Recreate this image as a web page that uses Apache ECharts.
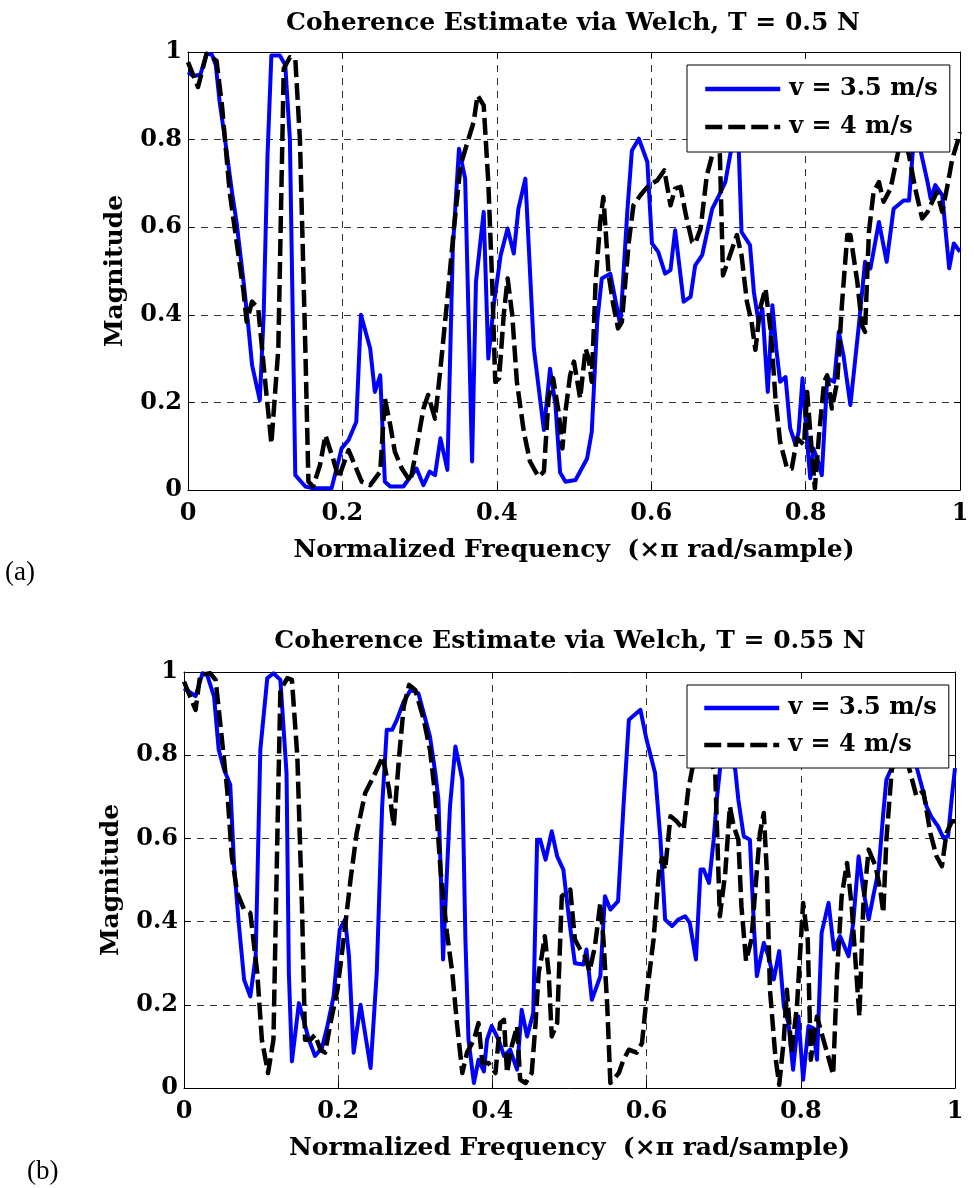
<!DOCTYPE html>
<html>
<head>
<meta charset="utf-8">
<script src="https://cdn.jsdelivr.net/npm/echarts@6/dist/echarts.min.js"></script>
<style>
html,body{margin:0;padding:0;background:#fff;}
#chart{width:974px;height:1188px;}
</style>
</head>
<body>
<div id="chart"></div>
<script>
// ---------- tick labels ----------
const xTicks = [0, 0.2, 0.4, 0.6, 0.8, 1];
const yTicks = [0, 0.2, 0.4, 0.6, 0.8, 1];
const seriesNames = ['v = 3.5 m/s', 'v = 4 m/s'];
const titles = ['Coherence Estimate via Welch, T = 0.5 N', 'Coherence Estimate via Welch, T = 0.55 N'];
const panelLabels = ['(a)', '(b)'];

// ---------- panel (a) : v = 3.5 m/s ----------
const freqA1 = [0,.007,.016,.024,.031,.036,.041,.048,.057,.063,.072,.078,.083,.093,.098,.103,.108,.119,.126,.132,.139,.152,.162,.186,.199,.208,.218,.224,.236,.242,.249,.255,.262,.279,.288,.296,.305,.313,.32,.327,.336,.343,.351,.359,.368,.373,.383,.389,.396,.405,.414,.422,.428,.437,.448,.461,.469,.476,.482,.489,.502,.517,.523,.53,.536,.547,.56,.569,.575,.584,.595,.601,.609,.618,.625,.631,.642,.651,.657,.666,.679,.688,.696,.703,.709,.713,.717,.728,.733,.739,.744,.751,.757,.762,.767,.774,.78,.787,.791,.796,.802,.806,.81,.815,.821,.828,.837,.843,.849,.858,.869,.877,.884,.895,.905,.914,.927,.934,.94,.947,.958,.962,.968,.977,.986,.992,1.0];
const magA1  = [.954,.945,.948,.996,.994,.97,.886,.80,.68,.61,.475,.376,.285,.205,.40,.764,.992,.992,.97,.80,.034,.008,.004,.004,.095,.114,.156,.40,.323,.224,.262,.019,.008,.008,.03,.049,.011,.042,.034,.118,.046,.551,.779,.711,.065,.475,.635,.30,.422,.536,.597,.54,.642,.711,.323,.137,.277,.194,.04,.019,.023,.072,.133,.384,.483,.494,.376,.635,.775,.802,.749,.563,.544,.494,.502,.593,.43,.441,.513,.536,.642,.673,.703,.772,.84,.80,.589,.559,.452,.384,.414,.224,.422,.323,.247,.258,.141,.103,.133,.255,.11,.027,.095,.072,.034,.255,.247,.361,.308,.194,.376,.521,.506,.612,.521,.642,.661,.661,.80,.79,.703,.665,.696,.673,.506,.563,.544];

// ---------- panel (a) : v = 4 m/s ----------
const freqA2 = [0,.013,.024,.037,.044,.054,.072,.076,.083,.091,.10,.108,.117,.124,.132,.139,.145,.152,.156,.162,.171,.178,.189,.195,.208,.225,.236,.249,.255,.262,.268,.277,.288,.296,.305,.311,.32,.327,.336,.344,.353,.362,.37,.375,.383,.389,.394,.398,.403,.409,.414,.42,.426,.435,.443,.454,.461,.467,.473,.48,.485,.489,.495,.50,.508,.515,.519,.523,.528,.534,.538,.545,.551,.557,.562,.571,.577,.586,.597,.608,.617,.625,.631,.638,.645,.653,.657,.664,.672,.679,.684,.689,.693,.702,.711,.717,.724,.73,.735,.741,.748,.755,.761,.767,.776,.782,.789,.798,.802,.806,.812,.817,.824,.828,.834,.841,.847,.854,.858,.867,.873,.877,.882,.888,.895,.901,.91,.919,.925,.934,.942,.951,.958,.964,.97,.977,.983,.99,.998,1.0];
const magA2  = [.977,.92,.996,.98,.878,.68,.452,.384,.43,.414,.247,.106,.323,.962,.988,.984,.80,.323,.019,.008,.057,.125,.065,.027,.091,.019,.011,.042,.209,.148,.087,.049,.019,.095,.186,.217,.163,.277,.437,.589,.741,.794,.84,.901,.878,.703,.475,.247,.255,.40,.483,.40,.247,.133,.065,.03,.042,.209,.255,.179,.095,.18,.262,.293,.209,.323,.30,.247,.475,.612,.669,.49,.422,.369,.384,.566,.65,.673,.696,.707,.73,.65,.688,.692,.627,.566,.563,.597,.718,.764,.85,.764,.49,.536,.582,.536,.43,.384,.32,.414,.46,.361,.209,.11,.049,.049,.118,.103,.224,.133,.004,.118,.247,.262,.186,.247,.422,.582,.582,.475,.376,.361,.589,.68,.703,.658,.688,.764,.82,.764,.688,.62,.635,.658,.68,.635,.688,.756,.802,.817];

// ---------- panel (b) : v = 3.5 m/s ----------
const freqB1 = [0,.015,.024,.03,.039,.045,.052,.06,.065,.071,.078,.086,.093,.099,.108,.116,.125,.133,.136,.14,.149,.155,.162,.17,.179,.186,.194,.202,.209,.214,.22,.229,.242,.25,.257,.263,.27,.276,.285,.294,.304,.311,.319,.326,.33,.333,.336,.341,.345,.352,.361,.365,.369,.376,.382,.389,.393,.399,.408,.415,.423,.432,.438,.445,.453,.458,.462,.469,.477,.484,.492,.499,.507,.518,.522,.529,.54,.546,.553,.563,.57,.577,.592,.60,.611,.618,.624,.633,.641,.65,.656,.664,.67,.674,.681,.687,.691,.70,.715,.719,.726,.734,.739,.743,.752,.758,.765,.772,.778,.784,.79,.797,.803,.81,.816,.821,.827,.836,.843,.851,.862,.868,.875,.881,.888,.894,.901,.907,.911,.925,.95,.957,.963,.969,.978,.985,.991,.996,1.0];
const magB1  = [.961,.942,.997,.993,.941,.813,.765,.729,.533,.397,.26,.22,.317,.813,.985,.997,.981,.757,.277,.064,.204,.164,.116,.077,.097,.149,.22,.381,.405,.317,.085,.2,.048,.277,.677,.861,.861,.885,.929,.957,.949,.901,.845,.757,.693,.517,.309,.517,.677,.821,.741,.357,.116,.012,.068,.04,.116,.149,.116,.077,.092,.044,.188,.124,.18,.597,.597,.549,.617,.557,.525,.413,.30,.297,.333,.212,.269,.461,.429,.449,.677,.885,.909,.837,.757,.597,.405,.389,.405,.413,.397,.309,.525,.525,.493,.597,.693,.85,.765,.693,.605,.597,.397,.269,.349,.317,.261,.329,.196,.156,.044,.172,.02,.149,.144,.068,.373,.445,.333,.365,.317,.397,.557,.477,.405,.461,.525,.661,.741,.80,.773,.725,.677,.653,.629,.601,.605,.701,.769];

// ---------- panel (b) : v = 4 m/s ----------
const freqB2 = [0,.015,.021,.034,.041,.047,.056,.062,.069,.078,.086,.095,.101,.109,.116,.121,.125,.134,.14,.147,.153,.157,.164,.17,.177,.183,.19,.199,.207,.216,.224,.235,.246,.258,.266,.272,.279,.285,.292,.30,.311,.319,.326,.333,.341,.348,.354,.361,.367,.376,.382,.387,.395,.404,.41,.415,.419,.425,.432,.436,.443,.451,.456,.46,.464,.468,.473,.477,.484,.49,.501,.507,.514,.52,.526,.533,.54,.544,.549,.553,.564,.57,.577,.587,.594,.601,.609,.616,.62,.624,.631,.639,.648,.654,.659,.67,.689,.695,.702,.708,.713,.719,.723,.729,.736,.741,.747,.752,.756,.76,.767,.772,.778,.782,.788,.795,.803,.809,.813,.821,.827,.834,.842,.847,.853,.86,.866,.872,.876,.881,.888,.897,.903,.907,.911,.918,.93,.941,.95,.959,.968,.976,.983,.989,.996,1.0];
const magB2  = [.977,.909,.993,.997,.981,.877,.717,.557,.469,.429,.421,.277,.116,.036,.116,.597,.957,.985,.981,.797,.437,.116,.116,.128,.092,.085,.156,.236,.357,.501,.613,.709,.749,.797,.717,.629,.797,.917,.969,.957,.885,.813,.701,.517,.373,.277,.156,.036,.085,.116,.156,.06,.06,.036,.156,.164,.036,.10,.149,.02,.012,.036,.156,.277,.317,.365,.277,.124,.156,.461,.477,.357,.333,.317,.28,.341,.445,.357,.196,.012,.036,.068,.092,.085,.108,.236,.357,.517,.553,.525,.653,.641,.621,.717,.765,.85,.757,.413,.517,.677,.629,.597,.437,.305,.357,.477,.613,.661,.517,.236,.076,.008,.116,.236,.085,.196,.445,.357,.068,.172,.132,.085,.032,.277,.461,.541,.437,.277,.172,.437,.573,.533,.477,.421,.597,.765,.83,.765,.701,.713,.613,.557,.533,.613,.641,.641];

function zip(xs, ys){ return xs.map((x,i)=>[x, ys[i]]); }

const FONT = 'DejaVu Serif';
const grids = [
  {left:188, top:52, width:772, height:438},
  {left:184, top:672, width:771, height:416}
];

const xAxes = [], yAxes = [], series = [], legends = [];
grids.forEach((g, gi) => {
  xAxes.push({
    gridIndex: gi, type:'value', min:0, max:1, interval:0.2,
    name:'Normalized Frequency  (×π rad/sample)', nameLocation:'middle', nameGap:48,
    nameTextStyle:{fontFamily:FONT, fontWeight:'bold', fontSize:25, color:'#000'},
    axisLine:{show:true, onZero:false, lineStyle:{color:'#000', width:1}},
    axisTick:{show:true, inside:true, length:6, lineStyle:{color:'#000'}},
    axisLabel:{fontFamily:FONT, fontWeight:'bold', fontSize:24, color:'#000', margin:12,
      formatter: v => xTicks.includes(+v.toFixed(2)) ? String(+v.toFixed(2)) : ''},
    splitLine:{show:true, lineStyle:{color:'#333', width:1, type:[7,6]}}
  });
  xAxes.push({
    gridIndex: gi, type:'value', min:0, max:1, interval:0.2, position:'top',
    axisLine:{show:true, onZero:false, lineStyle:{color:'#000', width:1}},
    axisTick:{show:true, inside:true, length:6, lineStyle:{color:'#000'}},
    axisLabel:{show:false}, splitLine:{show:false}
  });
  yAxes.push({
    gridIndex: gi, type:'value', min:0, max:1, interval:0.2,
    name:'Magnitude', nameLocation:'middle', nameGap:60,
    nameTextStyle:{fontFamily:FONT, fontWeight:'bold', fontSize:25, color:'#000'},
    axisLine:{show:true, onZero:false, lineStyle:{color:'#000', width:1}},
    axisTick:{show:true, inside:true, length:6, lineStyle:{color:'#000'}},
    axisLabel:{fontFamily:FONT, fontWeight:'bold', fontSize:24, color:'#000', margin:6,
      padding:[8,0,0,0],
      formatter: v => yTicks.includes(+v.toFixed(2)) ? String(+v.toFixed(2)) : ''},
    splitLine:{show:true, lineStyle:{color:'#333', width:1, type:[7,6]}}
  });
  yAxes.push({
    gridIndex: gi, type:'value', min:0, max:1, interval:0.2, position:'right',
    axisLine:{show:true, onZero:false, lineStyle:{color:'#000', width:1}},
    axisTick:{show:true, inside:true, length:6, lineStyle:{color:'#000'}},
    axisLabel:{show:false}, splitLine:{show:false}
  });
});

const panelData = [
  [zip(freqA1, magA1), zip(freqA2, magA2)],
  [zip(freqB1, magB1), zip(freqB2, magB2)]
];
panelData.forEach((pd, gi) => {
  series.push({
    name: seriesNames[0], type:'line', xAxisIndex: gi*2, yAxisIndex: gi*2,
    data: pd[0], symbol:'none', showSymbol:false, animation:false,
    lineStyle:{color:'#0000FF', width:4, join:'round'}, itemStyle:{color:'#0000FF'}, z:2
  });
  series.push({
    name: seriesNames[1], type:'line', xAxisIndex: gi*2, yAxisIndex: gi*2,
    data: pd[1], symbol:'none', showSymbol:false, animation:false,
    lineStyle:{color:'#000', width:4.5, type:[17,6], cap:'butt', join:'round'}, itemStyle:{color:'#000'}, z:3
  });
});

const legendPos = [{left:687, top:65, gap:14, pad:[12,12,13,16]}, {left:687, top:685, gap:13, pad:[11,12,11,15]}];
legendPos.forEach((lp, gi) => {
  legends.push({
    data: seriesNames.map(n => ({name:n})),
    left: lp.left, top: lp.top, orient:'vertical',
    itemWidth:75, itemHeight:24, itemGap: lp.gap, padding: lp.pad,
    backgroundColor:'#fff', borderColor:'#000', borderWidth:1, borderRadius:0,
    selectedMode:false, z:10,
    lineStyle:{width:4.5},
    itemStyle:{color:'rgba(0,0,0,0)', borderWidth:0, opacity:0},
    textStyle:{fontFamily:FONT, fontWeight:'bold', fontSize:24, color:'#000', padding:[0,0,0,4]},
    seriesIndex: [gi*2, gi*2+1]
  });
});

const graphics = [
  {type:'text', x:573, y:23, style:{text:titles[0], font:'bold 25px "DejaVu Serif"', fill:'#000', align:'center', verticalAlign:'middle'}},
  {type:'text', x:570, y:641, style:{text:titles[1], font:'bold 25px "DejaVu Serif"', fill:'#000', align:'center', verticalAlign:'middle'}},
  {type:'text', x:5, y:573, style:{text:panelLabels[0], font:'27px "Liberation Serif"', fill:'#000', align:'left', verticalAlign:'middle'}},
  {type:'text', x:27, y:1172, style:{text:panelLabels[1], font:'27px "Liberation Serif"', fill:'#000', align:'left', verticalAlign:'middle'}}
];

const chart = echarts.init(document.getElementById('chart'), null, {renderer:'canvas'});
chart.setOption({
  backgroundColor:'#fff',
  animation:false,
  grid: grids.map(g => Object.assign({containLabel:false}, g)),
  xAxis: xAxes,
  yAxis: yAxes,
  legend: legends,
  series: series,
  graphic: graphics
});
</script>
</body>
</html>
